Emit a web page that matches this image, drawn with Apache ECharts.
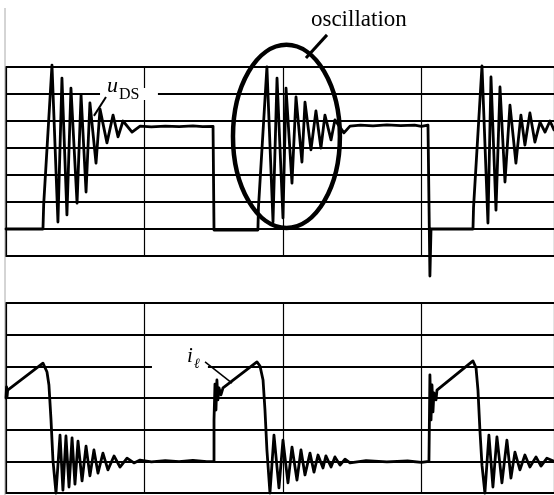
<!DOCTYPE html>
<html>
<head>
<meta charset="utf-8">
<script src="https://cdn.jsdelivr.net/npm/echarts@6/dist/echarts.min.js"></script>
<style>
html, body { margin: 0; padding: 0; background: #fff; }
#main { width: 554px; height: 495px; }
</style>
</head>
<body>
<div id="main"></div>
<script>
// time in screen divisions, amplitude in vertical divisions
var udsData = [
  [0,1.0],[0.267,1.0],[0.272,1.9],[0.332,7.07],[0.375,1.26],[0.404,6.59],[0.440,1.52],[0.469,6.22],
  [0.513,1.96],[0.542,5.96],[0.578,2.37],[0.606,5.67],[0.650,3.44],[0.679,5.44],[0.729,4.19],[0.773,5.22],
  [0.809,4.41],[0.845,5.0],[0.910,4.59],[0.968,4.81],[1.05,4.78],[1.15,4.81],[1.25,4.79],[1.35,4.82],
  [1.42,4.79],[1.495,4.8],[1.502,0.96],[1.819,0.96],[1.823,1.8],[1.884,7.0],[1.928,1.26],[1.957,6.59],
  [2.0,1.41],[2.022,6.22],[2.065,2.70],[2.094,5.89],[2.137,3.48],[2.159,5.70],[2.202,3.93],[2.238,5.37],
  [2.274,4.0],[2.303,5.22],[2.347,4.30],[2.375,5.04],[2.440,4.56],[2.484,4.81],[2.56,4.85],[2.65,4.82],
  [2.75,4.86],[2.85,4.83],[2.95,4.85],[3.0,4.8],[3.047,4.85],[3.054,4.85],[3.061,-0.74],[3.069,1.0],
  [3.372,1.0],[3.376,1.8],[3.437,7.04],[3.480,1.22],[3.502,6.63],[3.538,1.70],[3.567,6.26],[3.603,2.74],
  [3.639,5.59],[3.682,3.44],[3.718,5.22],[3.747,4.11],[3.783,5.30],[3.819,4.22],[3.856,4.96],[3.892,4.59],
  [3.928,5.0],[3.957,4.67]
];
var ilData = [
  [0,3.0],[0.004,3.35],[0.008,3.05],[0.012,3.25],[0.267,4.10],[0.296,3.82],[0.310,3.41],[0.325,2.31],
  [0.339,1.04],[0.361,0],[0.390,1.83],[0.411,0.09],[0.433,1.80],[0.455,0.19],[0.477,1.74],[0.498,0.28],
  [0.520,1.64],[0.549,0.38],[0.578,1.48],[0.606,0.54],[0.635,1.36],[0.664,0.63],[0.700,1.26],[0.736,0.73],
  [0.780,1.17],[0.823,0.82],[0.874,1.10],[0.924,0.95],[0.968,1.04],[1.05,0.98],[1.15,1.02],[1.25,0.99],
  [1.35,1.03],[1.45,0.99],[1.502,1.0],[1.502,2.31],[1.509,3.44],[1.516,2.62],[1.523,3.57],[1.530,2.94],
  [1.538,3.32],[1.552,3.1],[1.567,3.32],[1.812,4.14],[1.834,4.01],[1.856,3.57],[1.870,2.62],[1.884,1.36],
  [1.906,0],[1.935,1.83],[1.971,0.16],[2.0,1.67],[2.036,0.32],[2.065,1.45],[2.101,0.41],[2.130,1.36],
  [2.159,0.57],[2.195,1.26],[2.224,0.66],[2.253,1.20],[2.289,0.79],[2.310,1.17],[2.347,0.82],[2.375,1.14],
  [2.412,0.88],[2.448,1.07],[2.484,0.95],[2.6,1.02],[2.75,0.98],[2.9,1.01],[3.0,0.97],[3.054,1.0],
  [3.061,3.73],[3.069,2.31],[3.076,3.41],[3.083,2.56],[3.090,3.16],[3.105,2.94],[3.112,3.25],[3.372,4.17],
  [3.394,3.95],[3.408,3.25],[3.422,1.99],[3.437,0.88],[3.458,0],[3.487,1.83],[3.516,0.19],[3.545,1.77],
  [3.581,0.32],[3.617,1.67],[3.646,0.47],[3.675,1.29],[3.711,0.73],[3.747,1.20],[3.783,0.82],[3.827,1.14],
  [3.863,0.85],[3.906,1.10],[3.957,1.0]
];
var xMax = 3.957;
var topDivs = 7;
var bottomDivs = 6;

// annotations, in data units of their grid
var ellipseCenter = [2.025, 4.43];
var ellipseRadius = [0.386, 3.39];
var oscPointer = [[2.318, 8.19], [2.166, 7.33]];
var oscTextPos = [2.202, 8.73];
var udsUPos = [0.729, 6.27];
var udsSubPos = [0.816, 5.97];
var udsBox = [[0.679, 6.22], [1.097, 5.78]];
var udsPointer = [[0.722, 5.89], [0.635, 5.19]];
var ilIPos = [1.307, 4.31];
var ilSubPos = [1.357, 4.06];
var ilBox = [[1.054, 4.20], [1.458, 3.82]];
var ilPointer = [[1.437, 4.14], [1.632, 3.47]];

var myChart = echarts.init(document.getElementById('main'));

function xAxisFor(g) {
  return {
    gridIndex: g, type: 'value', min: 0, max: xMax, interval: 1,
    axisLine: {show: true, onZero: false, lineStyle: {color: '#000', width: 1.8}},
    axisTick: {show: false}, axisLabel: {show: false},
    splitLine: {show: true, lineStyle: {color: '#000', width: 1.2}}
  };
}
function yAxisFor(g, max) {
  return {
    gridIndex: g, type: 'value', min: 0, max: max, interval: 1,
    axisLine: {show: true, lineStyle: {color: '#000', width: 1.8}},
    axisTick: {show: false}, axisLabel: {show: false},
    splitLine: {show: true, lineStyle: {color: '#000', width: 1.8}}
  };
}

var option = {
  animation: false,
  backgroundColor: '#fff',
  grid: [
    {left: 6, right: 0, top: 67, height: 189},
    {left: 6, right: 0, top: 303, height: 190}
  ],
  xAxis: [xAxisFor(0), xAxisFor(1)],
  yAxis: [yAxisFor(0, topDivs), yAxisFor(1, bottomDivs)],
  series: [
    {
      name: 'uDS', type: 'line', xAxisIndex: 0, yAxisIndex: 0, data: udsData,
      showSymbol: false, clip: false, z: 3,
      lineStyle: {color: '#000', width: 2.8, join: 'round', cap: 'round'}
    },
    {
      name: 'il', type: 'line', xAxisIndex: 1, yAxisIndex: 1, data: ilData,
      showSymbol: false, clip: false, z: 3,
      lineStyle: {color: '#000', width: 2.8, join: 'round', cap: 'round'}
    }
  ]
};
myChart.setOption(option);

function px(g, p) {
  return myChart.convertToPixel({gridIndex: g}, p);
}
function boxRect(g, b) {
  var a = px(g, b[0]), c = px(g, b[1]);
  return {
    type: 'rect', z: 10,
    shape: {x: a[0], y: a[1], width: c[0] - a[0], height: c[1] - a[1]},
    style: {fill: '#fff'}
  };
}
function pointer(g, pts, w) {
  var a = px(g, pts[0]), c = px(g, pts[1]);
  return {
    type: 'line', z: 12,
    shape: {x1: a[0], y1: a[1], x2: c[0], y2: c[1]},
    style: {stroke: '#000', lineWidth: w}
  };
}
function label(g, pos, text, size, italic) {
  var p = px(g, pos);
  return {
    type: 'text', z: 12, x: p[0], y: p[1],
    style: {
      text: text, fill: '#000', fontFamily: 'Liberation Serif', fontSize: size,
      fontStyle: italic ? 'italic' : 'normal', align: 'left', verticalAlign: 'middle'
    }
  };
}

var ec = px(0, ellipseCenter);
var er = px(0, [ellipseCenter[0] + ellipseRadius[0], ellipseCenter[1] - ellipseRadius[1]]);

myChart.setOption({
  graphic: [
    {
      type: 'line', z: 1,
      shape: {x1: 5, y1: 8, x2: 5, y2: 495},
      style: {stroke: '#aaa', lineWidth: 1}
    },
    {
      type: 'ellipse', z: 11,
      shape: {cx: ec[0], cy: ec[1], rx: er[0] - ec[0], ry: er[1] - ec[1]},
      style: {fill: 'none', stroke: '#000', lineWidth: 4.5}
    },
    pointer(0, oscPointer, 3),
    label(0, oscTextPos, 'oscillation', 23, false),
    boxRect(0, udsBox),
    label(0, udsUPos, 'u', 22, true),
    label(0, udsSubPos, 'DS', 16, false),
    pointer(0, udsPointer, 2),
    boxRect(1, ilBox),
    label(1, ilIPos, 'i', 21, true),
    label(1, ilSubPos, 'ℓ', 14, true),
    pointer(1, ilPointer, 1.5)
  ]
});

window.onresize = function () {
  myChart.resize();
};
</script>
</body>
</html>
